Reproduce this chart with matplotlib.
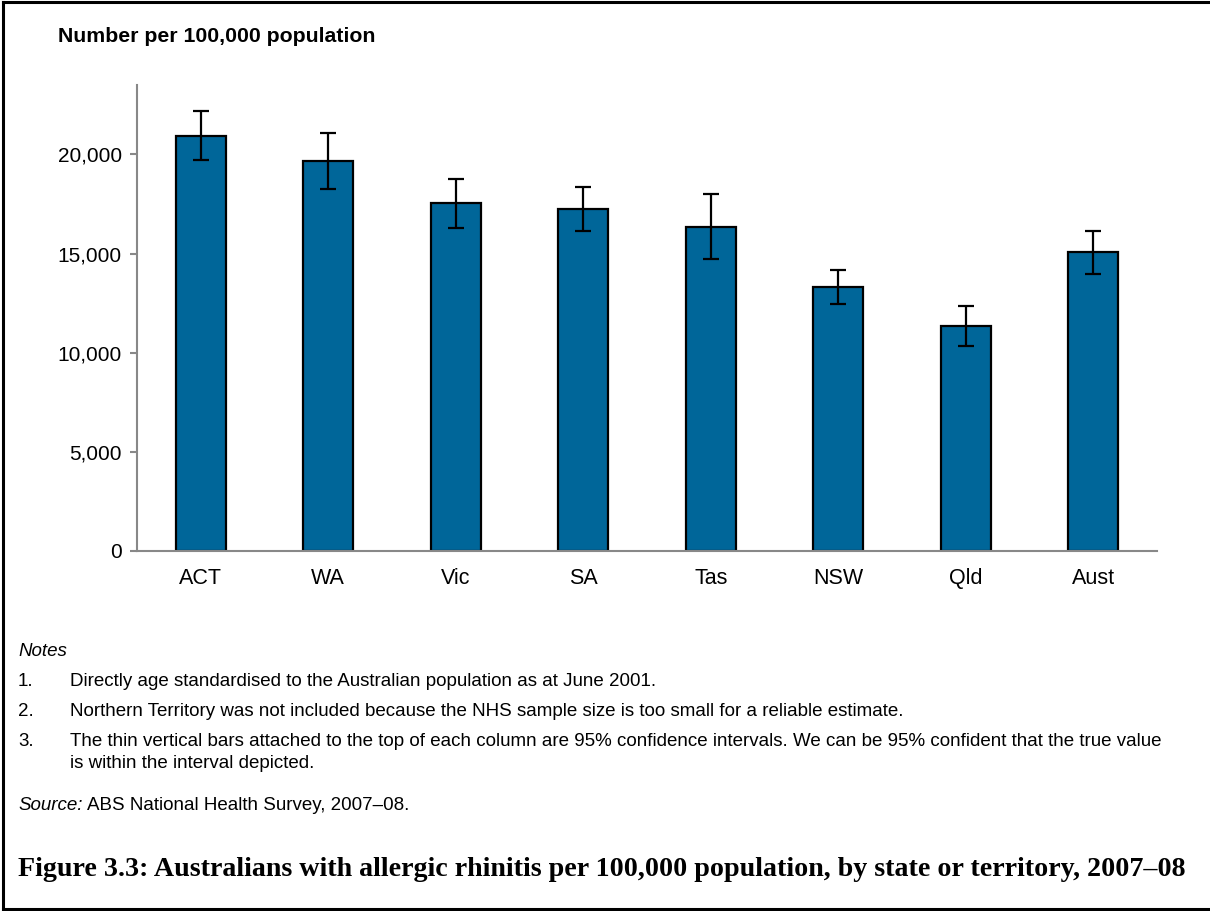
import matplotlib
matplotlib.use("Agg")
import matplotlib.pyplot as plt
from matplotlib.lines import Line2D
from matplotlib.ticker import FuncFormatter

categories = ["ACT", "WA", "Vic", "SA", "Tas", "NSW", "Qld", "Aust"]
values = [20940, 19680, 17540, 17260, 16360, 13320, 11360, 15090]
ci_low = [19730, 18270, 16300, 16130, 14730, 12440, 10320, 13960]
ci_high = [22170, 21080, 18770, 18370, 17980, 14160, 12360, 16150]
yticks = [0, 5000, 10000, 15000, 20000]

W, H = 1210, 911
fig = plt.figure(figsize=(W / 100, H / 100), dpi=100)
fig.patch.set_facecolor("white")

ax = fig.add_axes([137 / W, 1 - 551 / H, (1157 - 137) / W, (551 - 85) / H])
x = list(range(len(categories)))
err = [[v - l for v, l in zip(values, ci_low)], [h - v for v, h in zip(values, ci_high)]]
ax.bar(x, values, width=0.39, color="#006699", edgecolor="black", linewidth=1.6, zorder=2)
ax.errorbar(x, values, yerr=err, fmt="none", ecolor="black", elinewidth=1.6,
            capsize=6, capthick=1.6, zorder=3)
ax.set_xlim(-0.5, 7.5)
ax.set_ylim(0, 23500)
ax.set_yticks(yticks)
ax.yaxis.set_major_formatter(FuncFormatter(lambda v, p: f"{int(v):,}"))
ax.set_xticks(x)
ax.set_xticklabels(categories)
for s in ["top", "right"]:
    ax.spines[s].set_visible(False)
for s in ["left", "bottom"]:
    ax.spines[s].set_color("#888888")
    ax.spines[s].set_linewidth(1.5)
ax.tick_params(axis="y", direction="out", length=5, width=1.5, color="#888888",
               labelsize=15, pad=6)
ax.tick_params(axis="x", length=0, labelsize=15.5, pad=12)
for lab in ax.get_xticklabels() + ax.get_yticklabels():
    lab.set_fontfamily("Liberation Sans")

sans = "Liberation Sans"
fs = 13.5
fig.text(58 / W, 1 - 36 / H, "Number per 100,000 population", fontsize=15.3,
         fontweight="bold", family=sans, va="center")

fig.text(18 / W, 1 - 651 / H, "Notes", fontsize=fs, style="italic", family=sans, va="center")
notes = [
    ("1.", "Directly age standardised to the Australian population as at June 2001.", 681),
    ("2.", "Northern Territory was not included because the NHS sample size is too small for a reliable estimate.", 711),
    ("3.", "The thin vertical bars attached to the top of each column are 95% confidence intervals. We can be 95% confident that the true value", 741),
]
for num, txt, yy in notes:
    fig.text(18 / W, 1 - yy / H, num, fontsize=fs, family=sans, va="center")
    fig.text(70 / W, 1 - yy / H, txt, fontsize=fs, family=sans, va="center")
fig.text(70 / W, 1 - 763 / H, "is within the interval depicted.", fontsize=fs, family=sans, va="center")

src = fig.text(18 / W, 1 - 805 / H, "Source:", fontsize=fs, style="italic", family=sans, va="center")
fig.canvas.draw()
bb = src.get_window_extent(renderer=fig.canvas.get_renderer())
fig.text((bb.x1 + 4) / W, 1 - 805 / H, "ABS National Health Survey, 2007\u201308.",
         fontsize=fs, family=sans, va="center")

fig.text(18 / W, 1 - 870 / H,
         "Figure 3.3: Australians with allergic rhinitis per 100,000 population, by state or territory, 2007\u201308",
         fontsize=20.2, fontweight="bold", family="Liberation Serif", va="center")

# border
lw = 2.2
fig.add_artist(Line2D([3 / W, 1], [1 - 2 / H, 1 - 2 / H], color="black", lw=lw, transform=fig.transFigure))
fig.add_artist(Line2D([3 / W, 3 / W], [1 - 2 / H, 1 - 909 / H], color="black", lw=lw, transform=fig.transFigure))
fig.add_artist(Line2D([3 / W, 1], [1 - 909 / H, 1 - 909 / H], color="black", lw=lw, transform=fig.transFigure))

fig.savefig("out.png", dpi=100, facecolor="white")
